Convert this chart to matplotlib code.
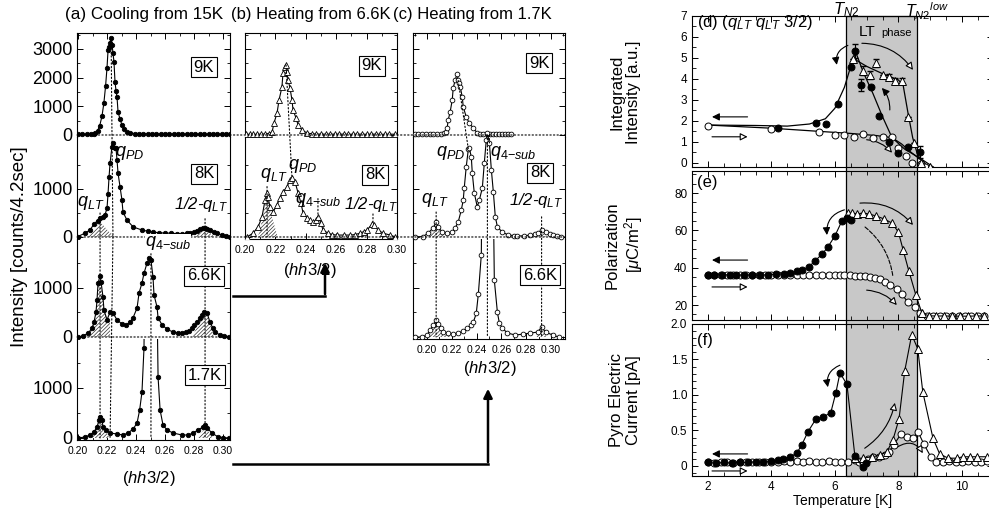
import matplotlib
matplotlib.use('Agg')
import matplotlib.pyplot as plt
from matplotlib.patches import ConnectionPatch, FancyArrowPatch, Rectangle
from matplotlib.lines import Line2D
from matplotlib.ticker import MultipleLocator, FixedLocator, FuncFormatter
import matplotlib.transforms as mtransforms

plt.rcParams['font.family'] = ['Liberation Sans', 'DejaVu Sans']
plt.rcParams['mathtext.fontset'] = 'custom'
plt.rcParams['mathtext.rm'] = 'Liberation Sans'
plt.rcParams['mathtext.it'] = 'Liberation Sans:italic'
plt.rcParams['mathtext.bf'] = 'Liberation Sans:bold'
plt.rcParams['hatch.linewidth'] = 0.5
plt.rcParams['axes.linewidth'] = 0.8

# ---------------- data: left column (a) cooling from 15K, filled circles ----------------
a9_q = [0.2000,0.2030,0.2060,0.2090,0.2110,0.2120,0.2135,0.2150,0.2165,0.2178,
        0.2190,0.2200,0.2207,0.2215,0.2222,0.2228,0.2235,0.2241,0.2248,0.2255,
        0.2262,0.2269,0.2276,0.2290,0.2303,0.2320,0.2338,0.2360,0.2390,0.2420,
        0.2450,0.2480,0.2510,0.2540,0.2570,0.2600,0.2630,0.2660,0.2690,0.2720,
        0.2750,0.2780,0.2810,0.2840,0.2870,0.2900,0.2930,0.2960,0.2990,0.3020,0.3045]
a9_I = [20,25,25,30,40,60,150,330,650,1100,
        1700,2350,2950,3050,3200,3380,3150,2850,2550,1850,
        1550,1320,800,550,350,200,100,70,50,45,
        40,40,35,35,35,30,30,30,30,30,
        30,30,30,30,30,25,25,25,25,25,25]

a8_q = [0.2000,0.2048,0.2083,0.2110,0.2135,0.2152,0.2172,0.2186,0.2200,0.2207,
        0.2214,0.2221,0.2234,0.2241,0.2255,0.2262,0.2269,0.2276,0.2290,0.2303,
        0.2310,0.2338,0.2380,0.2440,0.2480,0.2520,0.2560,0.2600,0.2640,0.2680,
        0.2720,0.2750,0.2775,0.2800,0.2820,0.2841,0.2860,0.2876,0.2890,0.2910,
        0.2935,0.2960,0.2990,0.3020,0.3045]
a8_I = [10,80,145,270,340,390,410,460,600,900,
        1250,1540,1880,1960,1850,1850,1600,1330,1040,770,
        520,350,210,145,120,100,90,80,80,70,
        70,75,85,100,130,165,180,190,170,145,
        100,80,40,20,10]
a8_hLT_q = [0.2060,0.2090,0.2120,0.2145,0.2152,0.2170,0.2195,0.2220,0.2250,0.2270]
a8_hLT_I = [0,80,180,300,310,260,170,90,30,0]
a8_hH_q = [0.2800,0.2830,0.2860,0.2876,0.2890,0.2920,0.2940]
a8_hH_I = [0,60,150,180,150,60,0]

a66_q = [0.2000,0.2034,0.2070,0.2097,0.2110,0.2124,0.2131,0.2138,0.2152,0.2159,
         0.2172,0.2179,0.2200,0.2221,0.2241,0.2269,0.2303,0.2331,0.2359,0.2379,
         0.2407,0.2421,0.2441,0.2455,0.2476,0.2490,0.2503,0.2517,0.2524,0.2545,
         0.2552,0.2580,0.2614,0.2655,0.2690,0.2717,0.2745,0.2765,0.2786,0.2803,
         0.2820,0.2840,0.2855,0.2869,0.2890,0.2910,0.2930,0.2945,0.2980,0.3010,0.3040]
a66_I = [0,20,80,180,300,510,750,1100,1245,1120,
         820,550,350,510,490,350,265,245,300,390,
         590,900,1100,1300,1510,1610,1570,1225,860,610,
         390,245,160,100,85,80,100,130,180,240,
         300,380,450,510,490,300,180,100,40,20,10]
a66_hLT_q = [0.2050,0.2080,0.2100,0.2124,0.2138,0.2152,0.2165,0.2180,0.2200,0.2221,0.2222]
a66_hLT_I = [0,100,250,480,1050,1240,950,550,330,280,0]
a66_hH_q = [0.2790,0.2820,0.2850,0.2869,0.2890,0.2915,0.2940]
a66_hH_I = [0,220,420,500,470,230,0]

a17_q = [0.2000,0.2048,0.2083,0.2110,0.2131,0.2145,0.2152,0.2166,0.2172,0.2193,
         0.2221,0.2269,0.2310,0.2345,0.2380,0.2407,0.2425,0.2441,0.2455,0.2475,
         0.2495,0.2515,0.2552,0.2566,0.2586,0.2614,0.2655,0.2717,0.2760,0.2793,
         0.2828,0.2862,0.2876,0.2890,0.2924,0.2966,0.3000,0.3040]
a17_I = [0,20,60,120,220,360,420,360,220,160,
         100,80,60,100,180,300,560,920,1800,9000,
         12000,9000,1220,560,260,160,100,60,60,100,
         160,220,260,200,100,20,10,0]
a17_hLT_q = [0.2075,0.2100,0.2131,0.2152,0.2172,0.2195,0.2220]
a17_hLT_I = [0,100,220,400,220,120,0]
a17_hH_q = [0.2825,0.2855,0.2876,0.2900,0.2930]
a17_hH_I = [0,120,240,130,0]

# ---------------- (b) heating from 6.6K, open triangles ----------------
b9_q = [0.2005,0.2030,0.2055,0.2080,0.2105,0.2130,0.2155,0.2178,0.2191,0.2211,
        0.2224,0.2243,0.2250,0.2263,0.2270,0.2276,0.2283,0.2296,0.2309,0.2316,
        0.2336,0.2349,0.2375,0.2408,0.2440,0.2470,0.2500,0.2530,0.2560,0.2590,
        0.2620,0.2650,0.2680,0.2710,0.2740,0.2770,0.2800,0.2830,0.2860,0.2890,
        0.2920,0.2950,0.2990]
b9_I = [20,25,20,30,30,35,50,100,420,770,
        1220,1670,2160,2370,2440,2200,1920,1640,1220,870,
        590,350,170,70,40,35,30,30,30,30,
        30,30,25,30,30,30,25,30,30,25,
        25,30,25]
b8_q = [0.2013,0.2053,0.2086,0.2112,0.2132,0.2145,0.2151,0.2164,0.2184,0.2211,
        0.2230,0.2250,0.2276,0.2296,0.2309,0.2329,0.2349,0.2368,0.2382,0.2408,
        0.2428,0.2447,0.2467,0.2480,0.2500,0.2513,0.2546,0.2575,0.2605,0.2650,
        0.2691,0.2725,0.2757,0.2780,0.2803,0.2836,0.2849,0.2875,0.2908,0.2954,0.2990]
b8_I = [0,80,210,420,770,920,840,630,520,670,
        810,940,1040,1190,1230,1150,920,710,500,400,
        350,310,350,420,290,145,80,50,40,40,
        40,50,80,110,145,270,250,145,80,40,0]
b8_hLT_q = [0.2085,0.2105,0.2125,0.2145,0.2165,0.2190,0.2215]
b8_hLT_I = [0,250,550,900,560,280,0]

# ---------------- (c) heating from 1.7K, open circles ----------------
c9_q = [0.1900,0.1930,0.1960,0.1990,0.2020,0.2050,0.2080,0.2110,0.2135,0.2150,
        0.2162,0.2170,0.2186,0.2203,0.2211,0.2227,0.2243,0.2251,0.2257,0.2268,
        0.2284,0.2292,0.2316,0.2340,0.2373,0.2405,0.2430,0.2455,0.2480,0.2505,
        0.2530,0.2555,0.2580,0.2605,0.2630,0.2655,0.2675]
c9_I = [20,25,30,25,30,30,35,40,60,120,
        240,520,800,1220,1640,1920,2130,1920,1800,1670,
        1320,980,630,420,240,70,40,35,30,35,
        40,35,30,35,40,40,35]
c8_q = [0.1900,0.1968,0.2008,0.2049,0.2073,0.2089,0.2122,0.2162,0.2203,0.2227,
        0.2251,0.2276,0.2292,0.2300,0.2316,0.2333,0.2341,0.2357,0.2365,0.2381,
        0.2405,0.2422,0.2446,0.2462,0.2478,0.2487,0.2503,0.2519,0.2535,0.2551,
        0.2568,0.2608,0.2657,0.2700,0.2730,0.2780,0.2835,0.2870,0.2892,0.2925,
        0.2957,0.2990,0.3014,0.3050,0.3078]
c8_I = [0,10,80,190,310,210,100,80,100,190,
        310,560,770,1020,1460,1830,1850,1670,1330,920,
        630,770,1020,1540,2020,2170,1960,1400,940,420,
        210,100,40,30,20,25,40,60,80,145,
        100,60,40,20,0]
c8_hLT_q = [0.2010,0.2040,0.2073,0.2100,0.2145]
c8_hLT_I = [0,130,290,150,0]
c8_hH_q = [0.2890,0.2925,0.2960]
c8_hH_I = [0,130,0]
c66_q = [0.1900,0.1960,0.2000,0.2024,0.2049,0.2073,0.2089,0.2114,0.2130,0.2170,
         0.2211,0.2251,0.2292,0.2324,0.2357,0.2373,0.2397,0.2414,0.2438,0.2455,
         0.2480,0.2510,0.2543,0.2568,0.2584,0.2608,0.2649,0.2714,0.2778,0.2835,
         0.2892,0.2925,0.2957,0.3014,0.3062]
c66_I = [0,0,40,140,240,340,260,180,100,80,
         60,80,120,180,240,300,480,880,1680,8000,
         12000,8000,1160,500,280,180,80,40,60,80,
         100,200,100,40,0]
c66_hLT_q = [0.2010,0.2049,0.2073,0.2105,0.2140,0.2200]
c66_hLT_I = [0,220,330,170,80,0]
c66_hH_q = [0.2880,0.2925,0.2965]
c66_hH_I = [0,180,0]

# ---------------- right column data ----------------
T_N2, T_N2low = 6.35, 8.6

d_fill_T = [4.2, 5.4, 5.72, 6.09, 6.5, 6.63, 6.82, 7.13, 7.39, 7.7, 8.0, 8.3, 8.68]
d_fill_v = [1.65, 1.9, 1.86, 2.81, 4.57, 5.33, 3.71, 3.62, 2.24, 1.0, 0.48, 0.76, 0.52]
d_fill_err = [0, 0, 0, 0, 0, 0.35, 0.3, 0, 0, 0, 0, 0, 0.3]
d_tri_T = [6.57, 6.9, 7.1, 7.3, 7.5, 7.7, 7.9, 8.1, 8.3, 8.5, 8.7, 9.0]
d_tri_v = [4.97, 4.4, 4.2, 4.75, 4.17, 4.1, 3.9, 3.9, 2.2, 0.95, 0.0, -0.2]
d_tri_err = [0, 0.2, 0.2, 0.2, 0, 0.15, 0.15, 0.15, 0, 0, 0, 0]
d_open_T = [2.0, 4.0, 5.5, 6.0, 6.3, 6.6, 6.9, 7.2, 7.5, 7.8, 8.0, 8.24, 8.42, 8.7, 8.85]
d_open_v = [1.75, 1.6, 1.48, 1.33, 1.33, 1.24, 1.37, 1.18, 1.25, 1.25, 0.7, 0.33, 0.0, -0.05, -0.18]
d_fitF_T = [2.0, 3.5, 4.5, 5.2, 5.7, 6.0, 6.3, 6.5, 6.65, 6.9, 7.2, 7.5, 7.8, 8.2, 8.7, 9.1]
d_fitF_v = [1.8, 1.78, 1.75, 1.85, 2.1, 2.6, 3.6, 4.6, 5.3, 4.3, 3.3, 2.2, 1.2, 0.65, 0.2, -0.2]
d_fitT_T = [6.55, 7.0, 7.5, 8.0, 8.15, 8.3, 8.45, 8.6, 8.8, 9.0]
d_fitT_v = [5.0, 4.6, 4.25, 3.95, 3.7, 2.4, 1.2, 0.4, -0.05, -0.2]
d_fitO_T = [2.0, 4.0, 5.5, 6.5, 7.3, 7.8, 8.1, 8.4, 8.7, 8.95]
d_fitO_v = [1.8, 1.65, 1.5, 1.4, 1.3, 1.2, 0.9, 0.5, 0.15, -0.2]

e_fill_T = [2.0,2.2,2.45,2.7,2.9,3.15,3.4,3.65,3.9,4.15,4.4,4.6,4.8,4.96,5.18,5.37,5.6,5.78,6.0,6.22,6.38,6.5]
e_fill_v = [36.2,36.0,36.3,36.1,36.0,36.2,36.1,36.0,36.3,36.5,36.8,37.3,38.0,38.8,40.4,43.6,47.3,51.1,57.0,65.0,66.6,65.5]
e_tri_T = [6.4,6.55,6.7,6.88,7.07,7.3,7.55,7.8,8.0,8.15,8.33,8.55,8.74,8.95,9.2,9.45,9.7,9.95,10.2,10.45,10.7]
e_tri_v = [69.3,69.3,68.8,69.3,68.8,67.7,66.1,63.9,59.1,49.5,38.2,25.4,15.7,14.3,14.1,14.2,14.0,14.1,14.0,14.2,14.1]
e_open_T = [2.0,2.2,2.4,2.6,2.8,3.0,3.2,3.4,3.6,3.8,4.0,4.2,4.4,4.6,4.8,5.0,5.2,5.4,5.6,5.8,6.0,6.15,6.3,
            6.47,6.63,6.79,6.95,7.1,7.26,7.42,7.57,7.73,7.95,8.1,8.3,8.52,8.68,
            8.9,9.1,9.3,9.5,9.7,9.9,10.1,10.3,10.5,10.7]
e_open_v = [36.0,36.1,35.9,36.0,36.1,36.0,35.9,36.0,36.1,36.0,36.2,36.1,36.0,36.2,36.3,36.2,36.1,36.2,36.0,36.1,36.2,36.1,36.0,
            36.0,35.8,35.5,35.5,35.0,34.4,33.9,32.3,30.7,28.6,25.9,21.6,18.9,15.7,
            14.1,14.0,14.1,14.0,14.1,14.0,14.1,14.0,14.1,14.0]

f_fill_T = [2.0,2.25,2.5,2.75,3.0,3.25,3.5,3.75,4.0,4.2,4.36,4.6,4.8,4.96,5.15,5.4,5.63,5.87,6.03,6.16,6.38,6.63,6.88,6.98]
f_fill_v = [0.05,0.04,0.05,0.04,0.05,0.05,0.06,0.05,0.07,0.08,0.10,0.13,0.18,0.30,0.48,0.66,0.69,0.75,1.03,1.31,1.15,0.14,-0.01,0.04]
f_tri_T = [6.63,6.9,7.16,7.42,7.64,7.83,8.02,8.2,8.42,8.61,8.77,9.09,9.3,9.57,9.84,10.03,10.25,10.47,10.8]
f_tri_v = [0.11,0.11,0.13,0.15,0.20,0.37,0.66,1.34,1.85,1.65,1.04,0.39,0.17,0.11,0.11,0.13,0.13,0.13,0.13]
f_open_T = [2.0,2.2,2.4,2.6,2.8,3.0,3.2,3.4,3.6,3.8,4.0,4.2,4.4,4.6,4.8,5.0,5.2,5.4,5.6,5.8,6.0,6.2,6.4,
            6.63,6.75,6.9,7.05,7.2,7.4,7.57,7.7,7.86,8.08,8.27,8.46,8.62,8.8,9.02,9.2,
            9.4,9.6,9.8,10.0,10.2,10.4,10.6,10.8]
f_open_v = [0.05,0.04,0.05,0.05,0.04,0.05,0.05,0.05,0.06,0.05,0.06,0.06,0.07,0.06,0.07,0.06,0.07,0.06,0.06,0.07,0.06,0.06,0.05,
            0.08,0.06,0.04,0.10,0.13,0.13,0.15,0.20,0.30,0.45,0.41,0.39,0.48,0.31,0.13,0.06,
            0.06,0.07,0.06,0.06,0.07,0.06,0.06,0.07]

# ---------------- figure ----------------
W, H = 989, 516
fig = plt.figure(figsize=(W / 100, H / 100), dpi=100)


def rect(x0, y0, x1, y1):
    return [x0 / W, 1 - y1 / H, (x1 - x0) / W, (y1 - y0) / H]


def ftext(x, y, s, **kw):
    return fig.text(x / W, 1 - y / H, s, **kw)


ROWS = [(33, 137), (137, 239), (239, 339), (339, 440)]
YLIMS = [(-70, 3554), (-42, 2083), (-41, 2000), (-40, 1980)]
YTICKS = [([0, 1000, 2000, 3000], [500, 1500, 2500, 3500]), ([0, 1000], [500, 1500]),
          ([0, 1000], [500, 1500]), ([0, 1000], [500, 1500])]
XT = [0.20, 0.22, 0.24, 0.26, 0.28, 0.30]
XTm = [0.19, 0.21, 0.23, 0.25, 0.27, 0.29, 0.31]


def make_col(x0, x1, nrows, xlim, labelleft):
    axs = []
    for i in range(nrows):
        y0, y1 = ROWS[i]
        ax = fig.add_axes(rect(x0, y0, x1, y1))
        ax.set_facecolor('none')
        ax.set_xlim(*xlim)
        ax.set_ylim(*YLIMS[i])
        top = (i == 0)
        bottom = (i == nrows - 1)
        ax.spines['top'].set_visible(top)
        ax.spines['bottom'].set_visible(bottom)
        ax.set_yticks(YTICKS[i][0])
        ax.yaxis.set_minor_locator(FixedLocator(YTICKS[i][1]))
        ax.xaxis.set_major_locator(FixedLocator(XT))
        ax.xaxis.set_minor_locator(FixedLocator(XTm))
        ax.xaxis.set_major_formatter(FuncFormatter(lambda v, p: f'{v:.2f}'))
        ax.tick_params(which='both', direction='in', left=True, right=True,
                       top=top, bottom=bottom, labelbottom=bottom,
                       labelleft=labelleft, labelright=False)
        ax.tick_params(which='major', length=4, width=0.7)
        ax.tick_params(which='minor', length=2.5, width=0.6)
        ax.tick_params(axis='y', labelsize=13, pad=3)
        ax.tick_params(axis='x', labelsize=7.5, pad=4.5)
        axs.append(ax)
    return axs


colA = make_col(77, 230, 4, (0.1993, 0.3048), True)
colB = make_col(245, 397, 2, (0.200, 0.300), False)
colC = make_col(413, 565, 3, (0.1886, 0.3114), False)

FILLED = dict(marker='o', ms=3.2, mfc='k', mec='k', mew=0.6)
TRI = dict(marker='^', ms=3.8, mfc='white', mec='k', mew=0.6)
OPEN = dict(marker='o', ms=3.4, mfc='white', mec='k', mew=0.6)


def scan(ax, q, I, style, clip=True):
    ax.plot(q, I, '-', color='k', lw=0.8, zorder=3, clip_on=clip, **style)


def hatch(ax, q, I):
    ax.fill_between(q, 0, I, facecolor='white', edgecolor='#333333', hatch='/////////',
                    lw=0.0, zorder=2)


hatch(colA[1], a8_hLT_q, a8_hLT_I); hatch(colA[1], a8_hH_q, a8_hH_I)
hatch(colA[2], a66_hLT_q, a66_hLT_I); hatch(colA[2], a66_hH_q, a66_hH_I)
hatch(colA[3], a17_hLT_q, a17_hLT_I); hatch(colA[3], a17_hH_q, a17_hH_I)
scan(colA[0], a9_q, a9_I, FILLED)
scan(colA[1], a8_q, a8_I, FILLED)
scan(colA[2], a66_q, a66_I, FILLED)
scan(colA[3], a17_q, a17_I, FILLED)

hatch(colB[1], b8_hLT_q, b8_hLT_I)
scan(colB[0], b9_q, b9_I, TRI)
scan(colB[1], b8_q, b8_I, TRI)

hatch(colC[1], c8_hLT_q, c8_hLT_I); hatch(colC[1], c8_hH_q, c8_hH_I)
hatch(colC[2], c66_hLT_q, c66_hLT_I); hatch(colC[2], c66_hH_q, c66_hH_I)
scan(colC[0], c9_q, c9_I, OPEN)
scan(colC[1], c8_q, c8_I, OPEN, clip=False)
scan(colC[2], c66_q, c66_I, OPEN)


def dotted(axA, pA, axB, pB):
    cp = ConnectionPatch(xyA=pA, coordsA='data', axesA=axA, xyB=pB, coordsB='data',
                         axesB=axB, ls=(0, (1.2, 2.0)), lw=0.8, color='k', zorder=1)
    fig.add_artist(cp)


# baselines
dotted(colA[0], (0.1993, 0), colC[0], (0.3114, 0))
dotted(colA[1], (0.1993, 0), colC[1], (0.3114, 0))
dotted(colA[2], (0.1993, 0), colA[2], (0.3048, 0))
# panel a guides
dotted(colA[0], (0.2228, 3380), colA[1], (0.2241, 0))
dotted(colA[1], (0.2241, 0), colA[3], (0.2221, 0))
dotted(colA[1], (0.2152, 500), colA[3], (0.2152, 0))
dotted(colA[1], (0.2876, 380), colA[3], (0.2876, 0))
dotted(colA[2], (0.2503, 1700), colA[3], (0.2503, 0))
# panel b guides
dotted(colB[0], (0.2270, 2440), colB[1], (0.2309, 1230))
dotted(colB[1], (0.2145, 1050), colB[1], (0.2145, 0))
dotted(colB[1], (0.2480, 800), colB[1], (0.2480, 420))
dotted(colB[1], (0.2842, 480), colB[1], (0.2842, 270))
# panel c guides
dotted(colC[0], (0.2251, 1900), colC[1], (0.2333, 1830))
dotted(colC[0], (0.2487, 0), colC[2], (0.2487, 0))
dotted(colC[0], (0.2503, 0), colC[1], (0.2503, 1960))
dotted(colC[1], (0.2073, 520), colC[2], (0.2073, 0))
dotted(colC[1], (0.2925, 420), colC[2], (0.2925, 0))

# titles
ftext(65, 15, '(a) Cooling from 15K', fontsize=12.3, va='center', ha='left')
ftext(231, 15, '(b) Heating from 6.6K', fontsize=12.0, va='center', ha='left')
ftext(393, 15, '(c) Heating from 1.7K', fontsize=12.0, va='center', ha='left')
ftext(20, 247, 'Intensity [counts/4.2sec]', fontsize=13.5, rotation=90, va='center', ha='center')
for (x, y) in [(149, 478), (310, 270), (490, 368)]:
    ftext(x, y, r'($hh$3/2)', fontsize=12, va='center', ha='center')

BOX = dict(boxstyle='square,pad=0.15', fc='white', ec='k', lw=0.8)
for (x, y, s) in [(204, 67, '9K'), (204, 174, '8K'), (204, 276, '6.6K'), (205, 375, '1.7K'),
                  (372, 66, '9K'), (375, 175, '8K'),
                  (539, 63, '9K'), (540, 173, '8K'), (540, 275, '6.6K')]:
    ftext(x, y, s, fontsize=12, va='center', ha='center', bbox=BOX)

QPD = r'$q_{PD}$'
QLT = r'$q_{LT}$'
Q4 = r'$q_{4\mathrm{-}sub}$'
QH = r'1/2-$q_{LT}$'
WB = dict(boxstyle='square,pad=0.0', fc='white', ec='none')
for (x, y, s) in [(130, 153, QPD), (91, 203, QLT),
                  (274, 175, QLT), (303, 166, QPD), (318, 200, Q4),
                  (451, 153, QPD), (513, 153, Q4), (435, 200, QLT)]:
    ftext(x, y, s, fontsize=13, va='center', ha='center')
ftext(168, 243, Q4, fontsize=13, va='center', ha='center', bbox=WB)
for (x, y) in [(201, 204), (371, 205), (536, 200)]:
    ftext(x, y, QH, fontsize=12, va='center', ha='center', style='italic')

# connecting arrows
for (xa, xb, yh, ytop) in [(233, 325, 296, 260), (233, 488, 464, 386)]:
    fig.add_artist(Line2D([xa / W, xb / W], [1 - yh / H, 1 - yh / H], lw=1.8, color='k',
                          transform=fig.transFigure))
    fig.add_artist(FancyArrowPatch((xb / W, 1 - (yh + 0.9) / H), (xb / W, 1 - ytop / H),
                                   transform=fig.transFigure, arrowstyle='-|>',
                                   mutation_scale=13, lw=1.8, color='k'))

# ---------------- right column ----------------
RX0, RX1 = 692, 993
axd = fig.add_axes(rect(RX0, 16, RX1, 167))
axe = fig.add_axes(rect(RX0, 171, RX1, 320))
axf = fig.add_axes(rect(RX0, 324, RX1, 476))
for ax in (axd, axe, axf):
    ax.set_facecolor('none')
    ax.set_xlim(1.5, 10.98)
    ax.xaxis.set_major_locator(MultipleLocator(2))
    ax.xaxis.set_minor_locator(MultipleLocator(0.5))
    ax.tick_params(which='both', direction='in', top=True, right=True, labelsize=8.5)
    ax.tick_params(which='major', length=4, width=0.7)
    ax.tick_params(which='minor', length=3, width=0.6)
axd.tick_params(labelbottom=False)
axe.tick_params(labelbottom=False)
axd.set_ylim(-0.2, 7.0)
axd.yaxis.set_major_locator(MultipleLocator(1))
axd.yaxis.set_minor_locator(MultipleLocator(0.5))
axe.set_ylim(12.0, 91.8)
axe.yaxis.set_major_locator(MultipleLocator(20))
axe.yaxis.set_minor_locator(MultipleLocator(5))
axf.set_ylim(-0.141, 2.0)
axf.yaxis.set_major_locator(MultipleLocator(0.5))
axf.yaxis.set_minor_locator(MultipleLocator(0.1))
axf.yaxis.set_major_formatter(FuncFormatter(lambda v, p: '0' if abs(v) < 1e-9 else f'{v:.1f}'))
axf.set_xlabel('Temperature [K]', fontsize=10, labelpad=1)

# shaded LT phase across the three panels
bt = mtransforms.blended_transform_factory(axd.transData, fig.transFigure)
fig.add_artist(Rectangle((T_N2, 1 - 476 / H), T_N2low - T_N2, (476 - 16) / H, transform=bt,
                         facecolor='#c8c8c8', edgecolor='k', lw=0.9, zorder=-1))

RF = dict(marker='o', ms=5, mfc='k', mec='k', mew=0.7)
RT = dict(marker='^', ms=6, mfc='white', mec='k', mew=0.7)
RO = dict(marker='o', ms=5, mfc='white', mec='k', mew=0.7)

# (d)
axd.plot(d_fitO_T, d_fitO_v, '-', color='k', lw=0.9, zorder=2)
axd.plot(d_fitF_T, d_fitF_v, '-', color='k', lw=0.9, zorder=2)
axd.plot(d_fitT_T, d_fitT_v, '-', color='k', lw=0.9, zorder=2)
axd.errorbar(d_fill_T, d_fill_v, yerr=d_fill_err, fmt='none', ecolor='k', elinewidth=0.8, capsize=2, zorder=3)
axd.errorbar(d_tri_T, d_tri_v, yerr=d_tri_err, fmt='none', ecolor='k', elinewidth=0.8, capsize=2, zorder=3)
axd.plot(d_open_T, d_open_v, ls='none', zorder=4, **RO)
axd.plot(d_tri_T, d_tri_v, ls='none', zorder=4, **RT)
axd.plot(d_fill_T, d_fill_v, ls='none', zorder=5, **RF)

# (e)
axe.plot(e_open_T, e_open_v, '-', color='k', lw=0.8, zorder=4, **RO)
axe.plot(e_tri_T, e_tri_v, '-', color='k', lw=0.8, zorder=4, **RT)
axe.plot(e_fill_T, e_fill_v, '-', color='k', lw=0.8, zorder=5, **RF)

# (f)
axf.plot(f_open_T, f_open_v, '-', color='k', lw=0.8, zorder=4, **RO)
axf.plot(f_tri_T, f_tri_v, '-', color='k', lw=0.8, zorder=4, **RT)
axf.plot(f_fill_T, f_fill_v, '-', color='k', lw=0.8, zorder=5, **RF)


def arr(ax, start, end, filled=True, rad=0.0, ls='-', style='-|>'):
    ax.annotate('', xy=end, xytext=start, xycoords='data', textcoords='data',
                arrowprops=dict(arrowstyle=style, connectionstyle=f'arc3,rad={rad}',
                                lw=0.8, ls=ls, ec='k', fc='k' if filled else 'white',
                                mutation_scale=11, shrinkA=0, shrinkB=0))


arr(axd, (3.25, 2.19), (2.13, 2.19))
arr(axd, (2.13, 1.24), (3.25, 1.24), filled=False)
arr(axd, (6.41, 5.6), (6.06, 4.67), rad=0.4)
arr(axd, (6.85, 5.7), (8.46, 4.43), filled=False, rad=-0.25)
arr(axd, (7.73, 2.52), (7.48, 3.57), rad=0.2)
arr(axd, (7.0, 1.1), (7.8, 0.48), filled=False, rad=-0.2)

arr(axe, (3.25, 44.1), (2.13, 44.1))
arr(axe, (2.13, 29.7), (3.25, 29.7), filled=False)
arr(axe, (6.3, 71.0), (5.75, 57.5), rad=0.4)
arr(axe, (6.79, 74.6), (8.46, 62.9), filled=False, rad=-0.25)
arr(axe, (6.95, 61.8), (7.83, 35.0), rad=-0.2, ls='--', style='-')
arr(axe, (7.0, 28.0), (7.95, 20.0), filled=False, rad=-0.2)

arr(axf, (3.25, 0.17), (2.13, 0.17))
arr(axf, (2.13, -0.07), (3.25, -0.07), filled=False)
arr(axf, (6.16, 1.42), (5.78, 1.11), rad=0.4)
arr(axf, (6.94, 0.25), (7.89, 0.89), filled=False, rad=0.2)
arr(axf, (7.98, 0.27), (8.77, 0.18), filled=False, rad=-0.5)

# right column texts
ftext(697, 22, r'(d) ($q_{LT}\ q_{LT}$ 3/2)', fontsize=12, va='center', ha='left')
ftext(697, 182, '(e)', fontsize=12, va='center', ha='left')
ftext(697, 340, '(f)', fontsize=12, va='center', ha='left')
ftext(846, 10, r'$T_{N2}$', fontsize=12, va='center', ha='center')
ftext(927, 11, r'$T_{N2}{}^{low}$', fontsize=11.5, va='center', ha='center')
ftext(867, 32, 'LT', fontsize=11, va='center', ha='center')
ftext(897, 33, 'phase', fontsize=8, va='center', ha='center')
ftext(625, 92, 'Integrated\nIntensity [a.u.]', fontsize=12, rotation=90, va='center',
      ha='center', multialignment='center', linespacing=1.15)
ftext(625, 245, 'Polarization\n[$\\mu$C/m$^2$]', fontsize=12, rotation=90, va='center',
      ha='center', multialignment='center', linespacing=1.15)
ftext(625, 400, 'Pyro Electric\nCurrent [pA]', fontsize=12, rotation=90, va='center',
      ha='center', multialignment='center', linespacing=1.15)

fig.savefig('out.png', dpi=100)
